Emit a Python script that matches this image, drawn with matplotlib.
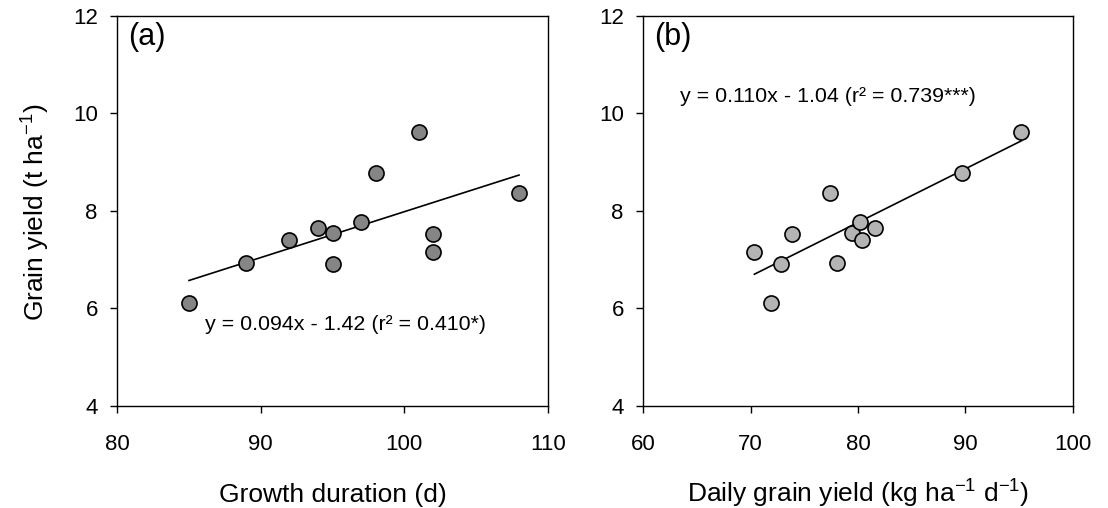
import numpy as np
import matplotlib
matplotlib.use("Agg")
import matplotlib.pyplot as plt

plt.rcParams['font.family'] = ['Liberation Sans', 'DejaVu Sans']
plt.rcParams['mathtext.fontset'] = 'custom'
plt.rcParams['mathtext.rm'] = 'Liberation Sans'

# Panel (a): growth duration vs grain yield
duration = [85, 89, 92, 94, 95, 95, 97, 98, 101, 102, 102, 108]
yield_a = [6.11, 6.93, 7.39, 7.65, 7.55, 6.91, 7.77, 8.78, 9.61, 7.52, 7.16, 8.36]

# Panel (b): daily grain yield vs grain yield
daily = [70.35, 72.83, 71.93, 73.86, 77.40, 78.05, 79.48, 80.23, 80.41, 81.62, 89.67, 95.23]
yield_b = [7.16, 6.91, 6.11, 7.52, 8.36, 6.93, 7.55, 7.77, 7.39, 7.65, 8.78, 9.61]

fit_a = (0.094, -1.42)
fit_b = (0.110, -1.04)
eq_a = "y = 0.094x - 1.42 (r² = 0.410*)"
eq_b = "y = 0.110x - 1.04 (r² = 0.739***)"

x_ticks_a = [80, 90, 100, 110]
x_ticks_b = [60, 70, 80, 90, 100]
y_ticks = [4, 6, 8, 10, 12]

W, H = 1108, 508
fig = plt.figure(figsize=(W / 100, H / 100), dpi=100)
ax1 = fig.add_axes([117.3 / W, 1 - 405.8 / H, 430.4 / W, 390.1 / H])
ax2 = fig.add_axes([643.3 / W, 1 - 405.8 / H, 429.4 / W, 390.1 / H])

def style(ax, xticks, xlim):
    ax.set_xlim(*xlim)
    ax.set_ylim(4, 12)
    ax.set_xticks(xticks)
    ax.set_yticks(y_ticks)
    for s in ax.spines.values():
        s.set_linewidth(1.0)
        s.set_color('black')
    ax.tick_params(direction='out', length=5, width=1.0, labelsize=16,
                   top=False, right=False)
    ax.tick_params(axis='x', pad=15)
    ax.tick_params(axis='y', pad=9)

# Panel a
style(ax1, x_ticks_a, (80, 110))
xa = np.array([min(duration), max(duration)])
ax1.plot(xa, fit_a[0] * xa + fit_a[1], color='black', lw=1.2, zorder=2)
ax1.scatter(duration, yield_a, s=118, c='#858585', edgecolors='black',
            linewidths=1.2, zorder=3)
ax1.text(0.025, 0.985, "(a)", transform=ax1.transAxes, fontsize=22,
         ha='left', va='top')
ax1.text(86.1, 5.66, eq_a, fontsize=15.4, ha='left', va='center')

# Panel b
style(ax2, x_ticks_b, (60, 100))
xb = np.array([min(daily), max(daily)])
ax2.plot(xb, fit_b[0] * xb + fit_b[1], color='black', lw=1.2, zorder=2)
ax2.scatter(daily, yield_b, s=118, c='#b4b4b4', edgecolors='black',
            linewidths=1.2, zorder=3)
ax2.text(0.025, 0.985, "(b)", transform=ax2.transAxes, fontsize=22,
         ha='left', va='top')
ax2.text(63.4, 10.34, eq_b, fontsize=15.4, ha='left', va='center')

# Axis labels placed at fixed baselines
base_y = 1 - 502 / H
fig.text((117.3 + 430.4 / 2) / W, base_y, "Growth duration (d)", fontsize=19,
         ha='center', va='baseline')
fig.text((643.3 + 429.4 / 2) / W, base_y, "Daily grain yield (kg ha$^{-1}$ d$^{-1}$)",
         fontsize=19, ha='center', va='baseline')
fig.text(35 / W, 1 - 212 / H, "Grain yield (t ha$^{-1}$)", fontsize=19,
         rotation=90, ha='center', va='center')

fig.savefig("out.png", dpi=100)
